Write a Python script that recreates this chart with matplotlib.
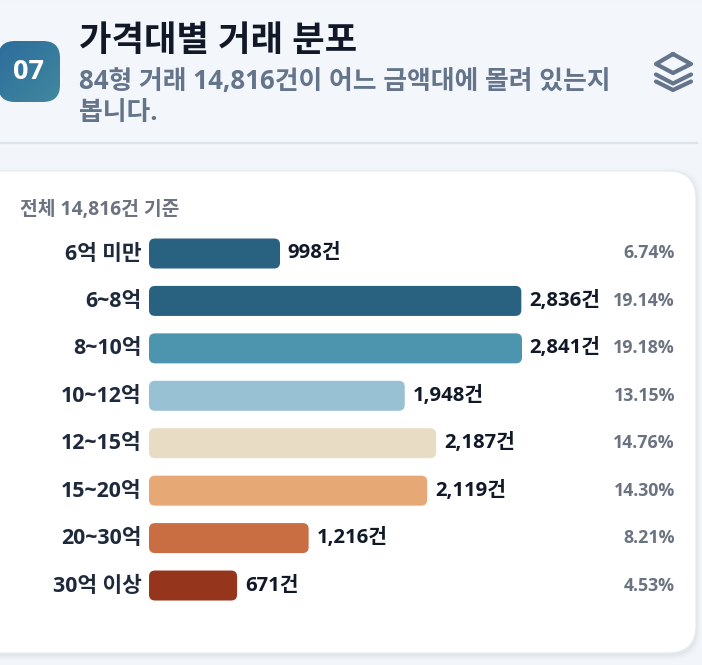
#!/usr/bin/env python3
"""Price-band histogram card: 84-type deals by price band."""

import numpy as np
import matplotlib
matplotlib.use("Agg")
import matplotlib.pyplot as plt
from matplotlib.patches import FancyBboxPatch
from matplotlib.transforms import ScaledTranslation, blended_transform_factory

plt.rcParams["font.family"] = ["Open Sans", "Noto Sans CJK KR", "DejaVu Sans"]

bands = ["6억 미만", "6~8억", "8~10억", "10~12억", "12~15억", "15~20억", "20~30억", "30억 이상"]
counts = [998, 2836, 2841, 1948, 2187, 2119, 1216, 671]
shares = ["6.74%", "19.14%", "19.18%", "13.15%", "14.76%", "14.30%", "8.21%", "4.53%"]
bar_colors = ["#296180", "#296180", "#4d94ae", "#98c2d3", "#e8dcc4", "#e6a875", "#c96e42", "#95351b"]

W, H = 702, 665
DARK = "#1e293b"
GRAY = "#6b7280"
SLATE = "#64748b"

fig = plt.figure(figsize=(W / 100, H / 100), dpi=100, facecolor="#f2f5f9")

# Pixel-space layer for the card furniture.
bg = fig.add_axes([0, 0, 1, 1])
bg.set_xlim(0, W)
bg.set_ylim(H, 0)
bg.axis("off")

bg.fill_between([0, W], 4, 143, color="#f3f7fb", lw=0, zorder=0)
bg.plot([0, 697], [143, 143], color="#dde3ea", lw=1.6, zorder=1)


def rounded(ax, x, y, w, h, r, **kw):
    patch = FancyBboxPatch((x + r, y + r), w - 2 * r, h - 2 * r,
                           boxstyle=f"round,pad={r},rounding_size={r}", **kw)
    ax.add_patch(patch)
    return patch


# soft card shadow, then the card
for grow, alpha in ((5, 0.012), (3, 0.02), (1.5, 0.03)):
    rounded(bg, -30 - grow, 171 - grow + 2, 726 + 2 * grow, 482 + 2 * grow, 28,
            facecolor="#1e293b", edgecolor="none", alpha=alpha, zorder=1)
rounded(bg, -30, 171, 726, 482, 28, facecolor="white", edgecolor="#e6ebf0", lw=0.8, zorder=2)

# number badge with a diagonal gradient
badge = rounded(bg, -2, 41, 62, 61, 17, facecolor="none", edgecolor="none", zorder=3)
gx, gy = np.meshgrid(np.linspace(0, 1, 80), np.linspace(0, 1, 80))
grad = (gx + gy) / 2
c0, c1 = np.array(matplotlib.colors.to_rgb("#2c6c9c")), np.array(matplotlib.colors.to_rgb("#41889f"))
img = c0 + (c1 - c0) * grad[..., None]
im = bg.imshow(img, extent=(-2, 60, 102, 41), aspect="auto", zorder=3)
im.set_clip_path(badge)
bg.set_xlim(0, W)
bg.set_ylim(H, 0)
bg.text(29, 72, "07", color="white", fontsize=19.5, fontweight="bold",
        ha="center", va="center", zorder=4)

# header text
bg.text(79, 42, "가격대별 거래 분포", color="#111827", fontsize=25.4, fontweight="bold",
        ha="left", va="center", zorder=4)
bg.text(79, 82, "84형 거래 14,816건이 어느 금액대에 몰려 있는지", color=SLATE, fontsize=18.6,
        fontweight="bold", ha="left", va="center", zorder=4)
bg.text(79, 113, "봅니다.", color=SLATE, fontsize=18.6, fontweight="bold",
        ha="left", va="center", zorder=4)
bg.text(20, 210, "전체 14,816건 기준", color=GRAY, fontsize=13.9, fontweight="bold",
        ha="left", va="center", zorder=4)

# layers icon
icon_kw = dict(color=SLATE, lw=3.0, solid_joinstyle="round", solid_capstyle="round", zorder=4)
bg.plot([673, 691, 673, 656, 673], [54, 64, 73, 64, 54], **icon_kw)
bg.plot([656, 673, 691], [74.5, 83.5, 74.5], **icon_kw)
bg.plot([656, 673, 691], [81.5, 90, 81.5], **icon_kw)

# Bars: x axis spans 0..2841 over 149..522 px, rows are 47.43 px apart.
row_h = 47.43
y_first = 253.5
px_per_count = 373 / 2841
ax = fig.add_axes([149 / W, 1 - (y_first + 7.5 * row_h) / H, 373 / W, 8 * row_h / H])
ax.patch.set_alpha(0)
ax.set_xlim(0, 2841)
ax.set_ylim(7.5, -0.5)
for side in ax.spines.values():
    side.set_visible(False)
ax.xaxis.set_visible(False)
ax.set_yticks(range(len(bands)), bands, fontsize=15.4, fontweight="bold", color=DARK)
ax.tick_params(axis="y", length=0, pad=5.3)
# labels sit a touch above the bar centre
nudge = ScaledTranslation(0, 2 / 100, fig.dpi_scale_trans)
for lab in ax.get_yticklabels():
    lab.set_transform(lab.get_transform() + nudge)

bar_h = 30 / row_h
radius = 6 / px_per_count
aspect = (1 / row_h) / (1 / px_per_count)
for i, (n, col) in enumerate(zip(counts, bar_colors)):
    ax.add_patch(FancyBboxPatch((radius, i - bar_h / 2 + 6 / row_h), n - 2 * radius, bar_h - 12 / row_h,
                                boxstyle=f"round,pad={radius},rounding_size={radius}",
                                mutation_aspect=aspect, facecolor=col, edgecolor="none", clip_on=False))
    ax.annotate(f"{n:,}건", (n, i), xytext=(5.6, 0), textcoords="offset points",
                ha="left", va="center", fontsize=14.6, fontweight="bold", color="#111827",
                annotation_clip=False)

pct_trans = blended_transform_factory(bg.transData, ax.transData)
for i, s in enumerate(shares):
    ax.text(675, i, s, transform=pct_trans, ha="right", va="center", fontsize=12.8,
            fontweight="bold", color=GRAY, clip_on=False)

fig.savefig("out.png", dpi=100, facecolor=fig.get_facecolor())
